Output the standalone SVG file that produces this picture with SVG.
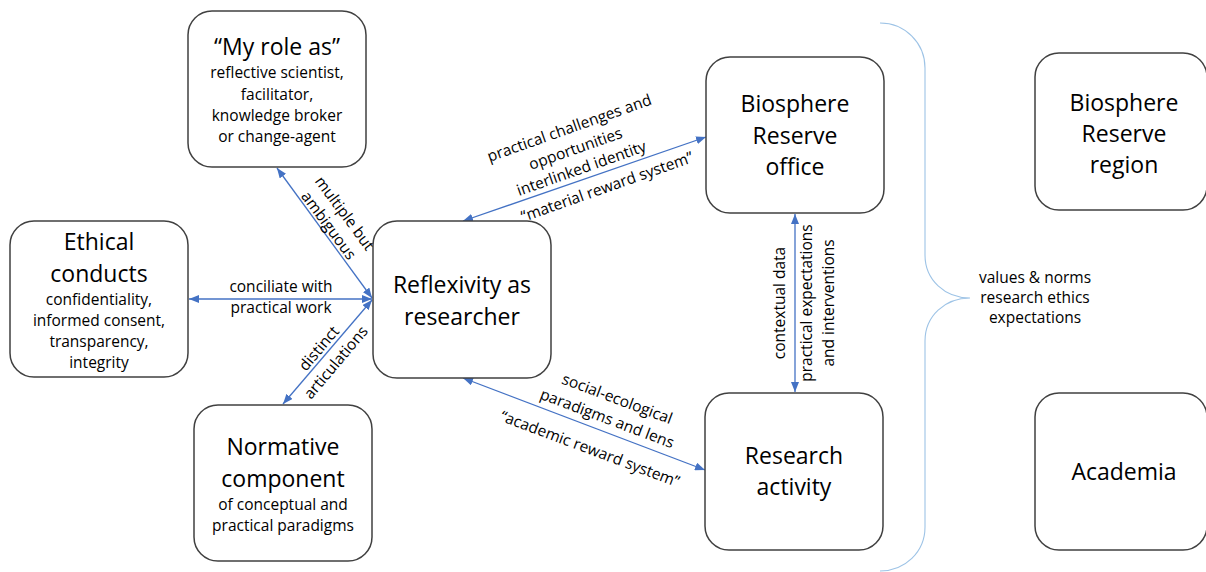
<svg xmlns="http://www.w3.org/2000/svg" width="1206" height="572" viewBox="0 0 1206 572">
  <defs>
    <style>
      .box { fill: #ffffff; stroke: #404040; stroke-width: 1.5; }
      .title { font-family: "Open Sans", "Liberation Sans", sans-serif; font-size: 23px; fill: #000000; text-anchor: middle; }
      .body { font-family: "Open Sans", "Liberation Sans", sans-serif; font-size: 15.5px; fill: #000000; text-anchor: middle; }
      .lbl { font-family: "Open Sans", "Liberation Sans", sans-serif; font-size: 15.5px; fill: #000000; text-anchor: middle; }
      .conn { stroke: #4472C4; stroke-width: 1.3; fill: none; marker-start: url(#head); marker-end: url(#head); }
      .brace { stroke: #9DC3E6; stroke-width: 1.1; fill: none; }
    </style>
    <marker id="head" viewBox="0 0 10 8" refX="10" refY="4" markerWidth="10" markerHeight="8" markerUnits="userSpaceOnUse" orient="auto-start-reverse">
      <path d="M0,0 L10,4 L0,8 Z" fill="#4472C4"/>
    </marker>
  </defs>

  <!-- connectors -->
  <g id="connectors">
    <line class="conn" x1="277" y1="168" x2="372" y2="298"/>
    <line class="conn" x1="189" y1="299" x2="372" y2="299"/>
    <line class="conn" x1="283" y1="404" x2="372" y2="300"/>
    <line class="conn" x1="463" y1="221" x2="706" y2="137"/>
    <line class="conn" x1="463" y1="378" x2="705" y2="470"/>
    <line class="conn" x1="795" y1="214" x2="795" y2="392"/>

    <!-- connector labels -->
    <g transform="translate(325,233.5) rotate(53.5)">
      <text class="lbl" x="-4.5" y="-22.5">multiple but</text>
      <text class="lbl" x="-4.3" y="-2.5">ambiguous</text>
    </g>
    <text class="lbl" x="281" y="292">conciliate with</text>
    <text class="lbl" x="281" y="313">practical work</text>
    <g transform="translate(326.5,351.5) rotate(-49.8)">
      <text class="lbl" x="-2.5" y="-2.5">distinct</text>
      <text class="lbl" x="-2.3" y="19.5">articulations</text>
    </g>
    <g transform="translate(585,178.5) rotate(-19.5)">
      <text class="lbl" x="2" y="-47.5">practical challenges and</text>
      <text class="lbl" x="1" y="-26">opportunities</text>
      <text class="lbl" x="0" y="-5.5">interlinked identity</text>
      <text class="lbl" x="18" y="20.5">“material reward system”</text>
    </g>
    <g transform="translate(584,424.5) rotate(20.6)">
      <text class="lbl" x="22" y="-30.5">social-ecological</text>
      <text class="lbl" x="19.6" y="-8.5">paradigms and lens</text>
      <text class="lbl" x="14.2" y="26">“academic reward system”</text>
    </g>
    <g transform="translate(785,303) rotate(-90)">
      <text class="lbl" x="0" y="0">contextual data</text>
    </g>
    <g transform="translate(812,303) rotate(-90)">
      <text class="lbl" x="0" y="0">practical expectations</text>
      <text class="lbl" x="0" y="21.5">and interventions</text>
    </g>
  </g>

  <!-- nodes -->
  <g id="my-role">
    <rect class="box" x="188" y="11" width="178" height="156" rx="24"/>
    <text class="title" x="277" y="55">“My role as”</text>
    <text class="body" x="277" y="78">reflective scientist,</text>
    <text class="body" x="277" y="99.5">facilitator,</text>
    <text class="body" x="277" y="121">knowledge broker</text>
    <text class="body" x="277" y="142">or change-agent</text>
  </g>

  <g id="ethical-conducts">
    <rect class="box" x="10" y="221" width="178" height="156" rx="24"/>
    <text class="title" x="99" y="250">Ethical</text>
    <text class="title" x="99" y="282">conducts</text>
    <text class="body" x="99" y="305">confidentiality,</text>
    <text class="body" x="99" y="326">informed consent,</text>
    <text class="body" x="99" y="347">transparency,</text>
    <text class="body" x="99" y="368">integrity</text>
  </g>

  <g id="reflexivity">
    <rect class="box" x="373" y="221" width="178" height="157" rx="24"/>
    <text class="title" x="462" y="293">Reflexivity as</text>
    <text class="title" x="462" y="325">researcher</text>
  </g>

  <g id="normative-component">
    <rect class="box" x="194" y="405" width="178" height="156" rx="24"/>
    <text class="title" x="283" y="455">Normative</text>
    <text class="title" x="283" y="487">component</text>
    <text class="body" x="283" y="510">of conceptual and</text>
    <text class="body" x="283" y="531">practical paradigms</text>
  </g>

  <g id="br-office">
    <rect class="box" x="706" y="57" width="178" height="156" rx="24"/>
    <text class="title" x="795" y="112">Biosphere</text>
    <text class="title" x="795" y="144">Reserve</text>
    <text class="title" x="795" y="175">office</text>
  </g>

  <g id="research-activity">
    <rect class="box" x="705" y="393" width="178" height="157" rx="24"/>
    <text class="title" x="794" y="464">Research</text>
    <text class="title" x="794" y="495">activity</text>
  </g>

  <g id="br-region">
    <rect class="box" x="1035" y="53" width="172" height="157" rx="24"/>
    <text class="title" x="1124" y="111">Biosphere</text>
    <text class="title" x="1124" y="142">Reserve</text>
    <text class="title" x="1124" y="173">region</text>
  </g>

  <g id="academia">
    <rect class="box" x="1035" y="393" width="172" height="157" rx="24"/>
    <text class="title" x="1124" y="480">Academia</text>
  </g>

  <!-- curly brace grouping the context -->
  <g id="context-brace">
    <path class="brace" d="M880,23 C905,23 925,43 925,68 L925,255 C925,280 945,298 970,298 C945,298 925,316 925,341 L925,527 C925,552 905,571 880,571"/>
    <text class="body" x="1035" y="283">values &amp; norms</text>
    <text class="body" x="1035" y="303">research ethics</text>
    <text class="body" x="1035" y="323">expectations</text>
  </g>
</svg>
